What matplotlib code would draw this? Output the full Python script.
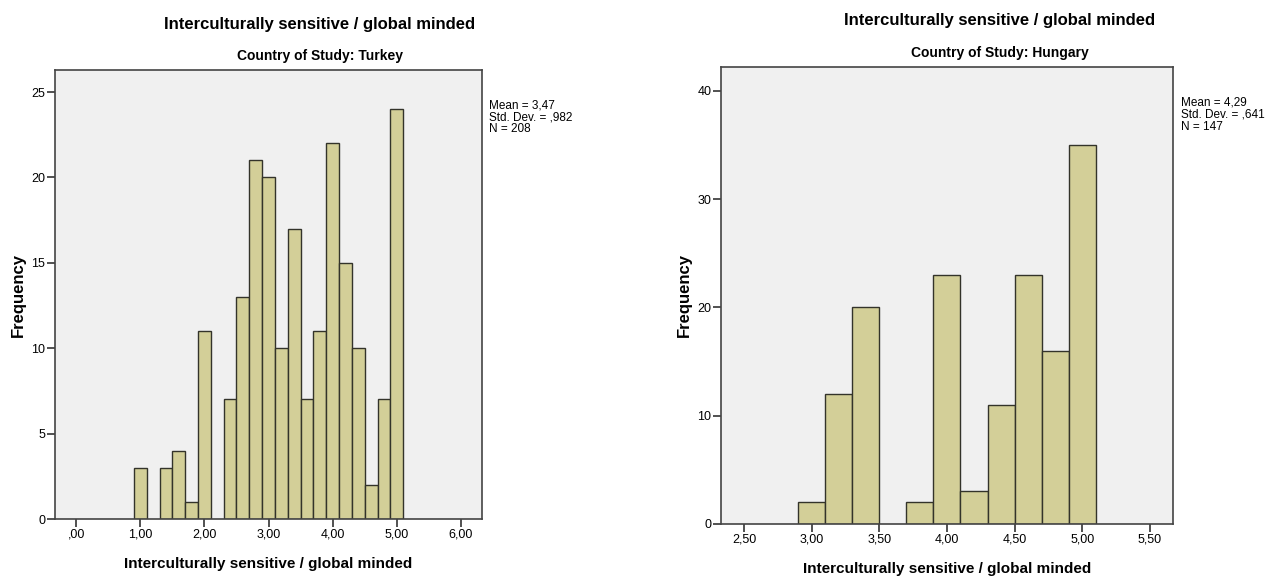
import matplotlib
matplotlib.use("Agg")
import matplotlib.pyplot as plt
from matplotlib.ticker import FuncFormatter

# data (bin width 0.2)
turkey_centers = [1.0, 1.4, 1.6, 1.8, 2.0, 2.4, 2.6, 2.8, 3.0, 3.2, 3.4,
                  3.6, 3.8, 4.0, 4.2, 4.4, 4.6, 4.8, 5.0]
turkey_counts = [3, 3, 4, 1, 11, 7, 13, 21, 20, 10, 17,
                 7, 11, 22, 15, 10, 2, 7, 24]
turkey_stats = ["Mean = 3,47", "Std. Dev. = ,982", "N = 208"]

hungary_centers = [3.0, 3.2, 3.4, 3.8, 4.0, 4.2, 4.4, 4.6, 4.8, 5.0]
hungary_counts = [2, 12, 20, 2, 23, 3, 11, 23, 16, 35]
hungary_stats = ["Mean = 4,29", "Std. Dev. = ,641", "N = 147"]

bin_width = 0.2
title = "Interculturally sensitive / global minded"

plt.rcParams['font.family'] = ['Liberation Sans', 'DejaVu Sans']

bar_color = "#d3cf98"
edge_color = "#33332a"
face_color = "#f0f0f0"


def comma_fmt(v, pos):
    s = "%.2f" % v
    s = s.replace(".", ",")
    if s.startswith("0,"):
        s = s[1:]
    return s


def draw_hist(ax, centers, counts, xlim, ylim, xticks, yticks, stats):
    ax.bar(centers, counts, width=bin_width, color=bar_color,
           edgecolor=edge_color, linewidth=1.0)
    ax.set_facecolor(face_color)
    ax.set_xlim(*xlim)
    ax.set_ylim(*ylim)
    ax.set_xticks(xticks)
    ax.set_yticks(yticks)
    ax.xaxis.set_major_formatter(FuncFormatter(comma_fmt))
    for s in ax.spines.values():
        s.set_color("#444444")
        s.set_linewidth(1.2)
    ax.tick_params(direction="out", length=6, width=1.2, color="#333333",
                   labelsize=9, pad=1)
    ax.set_xlabel(title, fontsize=11, fontweight="bold", labelpad=12)
    ax.set_ylabel("Frequency", fontsize=12, fontweight="bold", labelpad=4)
    ax.text(1.017, 0.935, "\n".join(stats), transform=ax.transAxes,
            fontsize=8.5, va="top", ha="left", linespacing=1.0)


fig = plt.figure(figsize=(12.74, 5.77), dpi=100)

ax1 = fig.add_axes([0.0432, 0.1005, 0.3352, 0.7782])
draw_hist(ax1, turkey_centers, turkey_counts, (-0.33, 6.33), (0, 26.29),
          [0, 1, 2, 3, 4, 5, 6], [0, 5, 10, 15, 20, 25], turkey_stats)

ax2 = fig.add_axes([0.5659, 0.0919, 0.3548, 0.792])
draw_hist(ax2, hungary_centers, hungary_counts, (2.33, 5.67), (0, 42.2),
          [2.5, 3.0, 3.5, 4.0, 4.5, 5.0, 5.5], [0, 10, 20, 30, 40],
          hungary_stats)

# panel titles are centred over plot + stats area, like SPSS does
fig.text(320 / 1274, 1 - 24 / 577, title, fontsize=12, fontweight="bold",
         ha="center", va="center")
fig.text(320 / 1274, 1 - 56 / 577, "Country of Study: Turkey", fontsize=10,
         fontweight="bold", ha="center", va="center")
fig.text(1000 / 1274, 1 - 20 / 577, title, fontsize=12, fontweight="bold",
         ha="center", va="center")
fig.text(1000 / 1274, 1 - 53 / 577, "Country of Study: Hungary", fontsize=10,
         fontweight="bold", ha="center", va="center")

fig.savefig("out.png", dpi=100)
